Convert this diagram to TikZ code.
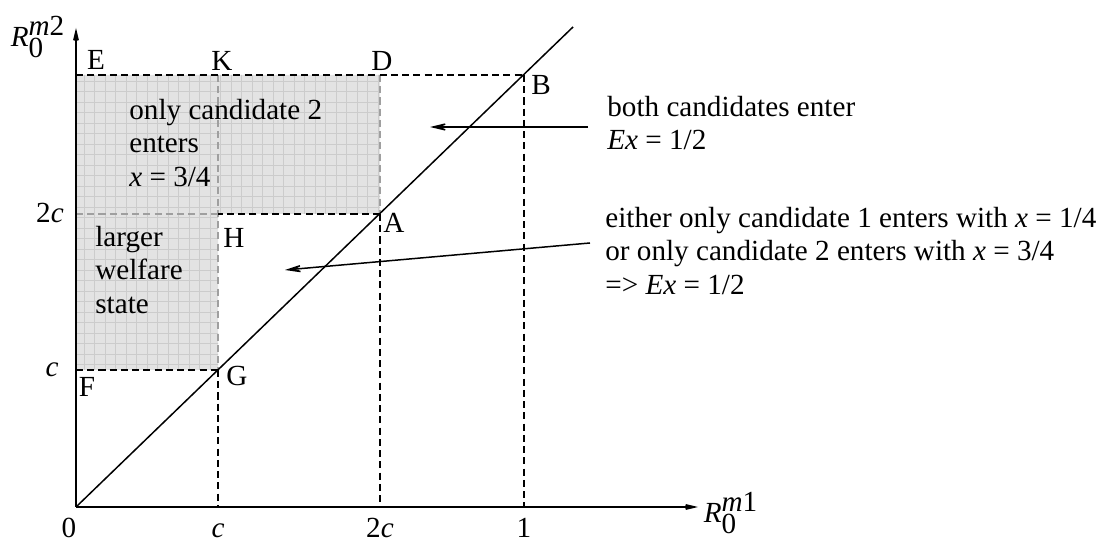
\documentclass[tikz,border=0pt]{standalone}
\usepackage{fontspec}
\setmainfont{Liberation Serif}
\usetikzlibrary{arrows.meta}

\begin{document}
\begin{tikzpicture}[x=0.02cm, y=0.02cm, font=\fontsize{16.6}{19}\selectfont]

% ---- Define Styles ----
\tikzset{
  axis/.style={
    line width=1.1pt, -{Stealth[length=5mm, width=2.4mm, inset=3mm]}
  },
  guide/.style={
    line width=0.85pt, dash pattern=on 4pt off 2.4pt
  },
  guidein/.style={guide, draw=gray!75},
  pointer/.style={
    line width=0.85pt, -{Stealth[length=5mm, width=2.4mm, inset=3mm]}
  },
  ptlabel/.style={inner sep=0pt},
  ticklabel/.style={inner sep=0pt, anchor=base},
  note/.style={align=left, anchor=north west, inner sep=0pt}
}

\useasboundingbox (0,0) rectangle (1104,543);

% =========================================================
% KEY POINTS (pixel grid, origin bottom left)
% =========================================================
\coordinate (O) at (76,36);
\coordinate (G) at (218,173);
\coordinate (A) at (380,329);
\coordinate (B) at (524,468);
\coordinate (E) at (76,468);
\coordinate (K) at (218,468);
\coordinate (D) at (380,468);
\coordinate (H) at (218,329);
\coordinate (F) at (76,173);
\coordinate (L) at (76,329);   % 2c on the vertical axis
\coordinate (Kx) at (218,36);
\coordinate (Ax) at (380,36);
\coordinate (Bx) at (524,36);

% =========================================================
% SHADED REGION (only candidate 2 / larger welfare state)
% =========================================================
\fill[gray!22] (E) -- (D) -- (A) -- (H) -- (G) -- (F) -- cycle;
\begin{scope}
  \clip (E) -- (D) -- (A) -- (H) -- (G) -- (F) -- cycle;
  \draw[gray!40, line width=0.4pt, step=0.21cm] (0,0) grid (400,480);
\end{scope}

% dashed guides inside the region are greyed out
\draw[guidein] (K) -- (H) -- (G);
\draw[guidein] (D) -- (A);
\draw[guidein] (L) -- (H);

% dashed guides
\draw[guide] (E) -- (D) -- (B);
\draw[guide] (A) -- (H);
\draw[guide] (F) -- (G);
\draw[guide] (G) -- (Kx);
\draw[guide] (A) -- (Ax);
\draw[guide] (B) -- (Bx);

% =========================================================
% AXES AND 45-DEGREE LINE
% =========================================================
\coordinate (Xend) at (698,36);
\coordinate (Yend) at (76,515);
\coordinate (Tend) at (573,516);
\draw[line width=0.85pt] (O) -- (Tend);
\draw[axis] (O) -- (Xend);
\draw[axis] (O) -- (Yend);

\node[inner sep=0pt] (ylab) at (38,506) {$\textit{R}_{\textrm{0}}^{\textit{m}\textrm{2}}$};
\node[inner sep=0pt] (xlab) at (731,30) {$\textit{R}_{\textrm{0}}^{\textit{m}\textrm{1}}$};

% tick labels
\node[ticklabel] (t0)  at (69,5)  {0};
\node[ticklabel] (tc)  at (218,5) {\textit{c}};
\node[ticklabel] (t2c) at (380,5) {2\textit{c}};
\node[ticklabel] (t1)  at (524,5) {1};
\node[ticklabel] (yc)  at (52,166) {\textit{c}};
\node[ticklabel] (y2c) at (50,320) {2\textit{c}};

% point labels
\node[ptlabel] (lE) at (96,483) {E};
\node[ptlabel] (lK) at (222,482) {K};
\node[ptlabel] (lD) at (382,482) {D};
\node[ptlabel] (lB) at (541,458) {B};
\node[ptlabel] (lA) at (394,320) {A};
\node[ptlabel] (lH) at (234,305) {H};
\node[ptlabel] (lG) at (237,167) {G};
\node[ptlabel] (lF) at (87,156) {F};

% =========================================================
% REGION TEXTS AND POINTERS
% =========================================================
\node[note] (only2)  at (129,444) {only candidate 2\\enters\\\textit{x} = 3/4};
\node[note] (larger) at (95,317)  {larger\\welfare\\state};

\node[note] (both)   at (607,447) {both candidates enter\\\textit{Ex} = 1/2};
\node[note] (either) at (605,336) {either only candidate 1 enters with \textit{x} = 1/4\\or only candidate 2 enters with \textit{x} = 3/4\\=> \textit{Ex} = 1/2};

\coordinate (tipboth)   at (430,416);
\coordinate (tipeither) at (285,273);
\draw[pointer] ([xshift=-0.38cm]both.west |- tipboth) -- (tipboth);
\draw[pointer] ([xshift=-0.3cm, yshift=0.16cm]either.west) -- (tipeither);

\end{tikzpicture}
\end{document}
